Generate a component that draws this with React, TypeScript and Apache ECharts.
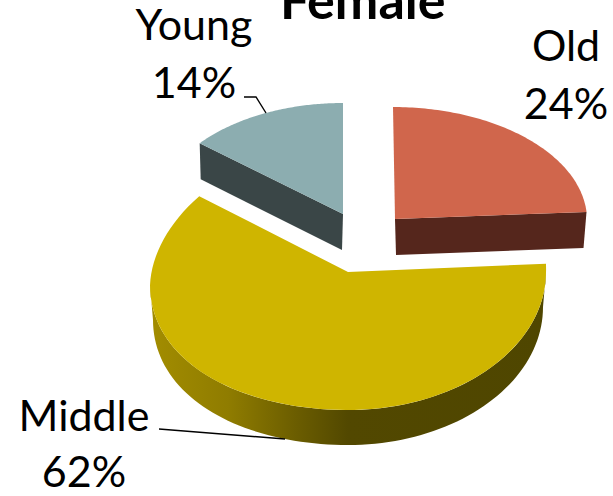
import React, { useEffect, useRef } from "react";
import * as echarts from "echarts";

const titleText = "Female";
const categories = ["Old", "Middle", "Young"];
const shares = [24, 62, 14];

const FONT = "Lato";
const LABEL_SIZE = 43;
const faceColors = ["#D0664C", "#CFB500", "#8CADB0"];
const wallColors = ["#55261C", "#4F4600", "#3A4647"];

// Projected geometry of each exploded slice (perspective view)
const geometry = [
  { ax: 395, ay: 219, rx: 192, ryTop: 112, ryBottom: 112, sag: 0, skew: 2, depth: 36 },
  { ax: 348, ay: 272, rx: 198, ryTop: 131, ryBottom: 138, sag: 13, skew: -6, depth: 35 },
  { ax: 343, ay: 214, rx: 186, ryTop: 111, ryBottom: 111, sag: 0, skew: 0, depth: 36 },
];
// Baselines of the two lines of every label
const labelPos = [
  { x: 566, y1: 60, y2: 118 },
  { x: 84, y1: 430, y2: 486 },
  { x: 194, y1: 39, y2: 97 },
];
const leaderLines: number[][][] = [
  [],
  [[159, 429], [285, 439]],
  [[244, 97], [256, 97], [266, 113]],
];

const total = shares.reduce((a, b) => a + b, 0);
const startAngle = (i: number) =>
  (shares.slice(0, i).reduce((a, b) => a + b, 0) / total) * Math.PI * 2;

function rimPoint(g: (typeof geometry)[number], t: number, dRx = 0, dy = 0) {
  const s = Math.sin(t);
  const c = Math.cos(t);
  const x = g.ax + (g.rx + dRx) * s - (c > 0 ? g.skew * c : 0);
  let y = g.ay - (c > 0 ? g.ryTop : g.ryBottom) * c;
  if (s < 0) y += g.sag * s * s;
  return [x, y + dy];
}

function sample(a: number, b: number, fn: (t: number) => number[]) {
  const n = 90;
  const pts: number[][] = [];
  for (let k = 0; k <= n; k++) pts.push(fn(a + ((b - a) * k) / n));
  return pts;
}

const lineText = (text: string, x: number, baseline: number) => ({
  type: "text",
  x,
  y: baseline - LABEL_SIZE * 0.36,
  style: {
    text,
    fill: "#000",
    font: `${LABEL_SIZE}px ${FONT}`,
    align: "center",
    verticalAlign: "middle",
  },
});

const renderItem = (params: any, api: any) => {
  const i = params.dataIndex;
  const value = api.value(0);
  const g = geometry[i];
  const a0 = startAngle(i);
  const a1 = a0 + (value / total) * Math.PI * 2;
  const apex = [g.ax, g.ay];
  const rim = sample(a0, a1, (t) => rimPoint(g, t));
  const children: any[] = [];

  if (categories[i] === "Middle") {
    const from = Math.PI / 2;
    const to = (Math.PI * 3) / 2;
    const upper = sample(from, to, (t) => rimPoint(g, t));
    const lower = sample(from, to, (t) => rimPoint(g, t, -3, g.depth)).reverse();
    children.push({
      type: "polygon",
      shape: { points: upper.concat(lower) },
      style: {
        fill: new echarts.graphic.LinearGradient(
          149, 0, 547, 0,
          [
            { offset: 0, color: "#A38D00" },
            { offset: 0.2, color: "#8F7C00" },
            { offset: 0.37, color: "#6B5D00" },
            { offset: 0.5, color: "#524800" },
            { offset: 1, color: wallColors[i] },
          ],
          true
        ),
      },
    });
  } else {
    const edge = categories[i] === "Old" ? rim[rim.length - 1] : rim[0];
    const inset = categories[i] === "Old" ? -3 : 1;
    const apexInset = categories[i] === "Old" ? 1 : -1;
    children.push({
      type: "polygon",
      shape: {
        points: [
          apex,
          edge,
          [edge[0] + inset, edge[1] + g.depth],
          [apex[0] + apexInset, apex[1] + g.depth],
        ],
      },
      style: { fill: wallColors[i] },
    });
  }

  children.push({
    type: "polygon",
    shape: { points: [apex].concat(rim) },
    style: { fill: faceColors[i] },
  });

  if (leaderLines[i].length) {
    children.push({
      type: "polyline",
      shape: { points: leaderLines[i] },
      style: { stroke: "#000", lineWidth: 1.4, fill: "none" },
    });
  }

  children.push(lineText(categories[i], labelPos[i].x, labelPos[i].y1));
  children.push(
    lineText(`${Math.round((value / total) * 100)}%`, labelPos[i].x, labelPos[i].y2)
  );

  return { type: "group", children };
};

export default function App() {
  const ref = useRef<HTMLDivElement>(null);
  useEffect(() => {
    document.body.style.margin = "0";
    const chart = echarts.init(ref.current!, null, { renderer: "svg" });
    chart.setOption({
      animation: false,
      backgroundColor: "#fff",
      title: {
        text: titleText,
        left: 280,
        top: -27,
        padding: 0,
        textStyle: { fontFamily: FONT, fontWeight: "bold", fontSize: 52, color: "#000" },
      },
      series: [
        {
          type: "custom",
          coordinateSystem: "none",
          renderItem,
          data: categories.map((name, i) => ({ name, value: shares[i] })),
        },
      ],
    });
    return () => chart.dispose();
  }, []);
  return <div ref={ref} style={{ width: 613, height: 496, overflow: "hidden" }} />;
}
